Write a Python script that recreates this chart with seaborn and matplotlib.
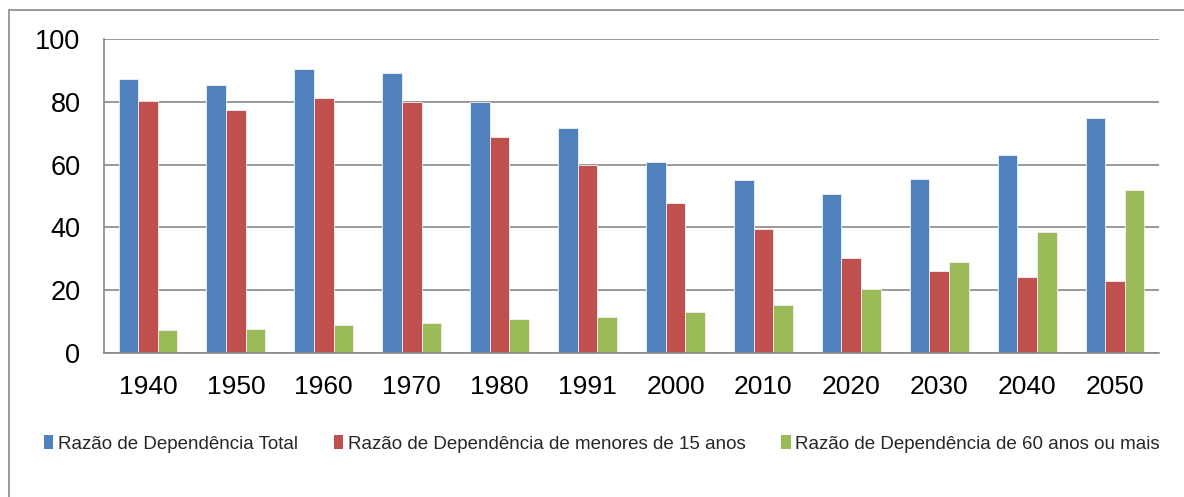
import matplotlib
matplotlib.use("Agg")
import matplotlib.pyplot as plt
import seaborn as sns
import pandas as pd
from matplotlib.patches import Rectangle, Patch

anos = ["1940", "1950", "1960", "1970", "1980", "1991", "2000", "2010", "2020", "2030", "2040", "2050"]
total = [87.4, 85.4, 90.3, 89.2, 79.9, 71.5, 60.8, 55.0, 50.7, 55.4, 62.9, 74.9]
menores15 = [80.1, 77.4, 81.1, 79.8, 68.8, 59.9, 47.9, 39.6, 30.2, 26.2, 24.2, 22.9]
mais60 = [7.4, 7.6, 8.9, 9.4, 10.7, 11.5, 12.9, 15.4, 20.4, 29.0, 38.6, 51.9]
series = ["Razão de Dependência Total",
          "Razão de Dependência de menores de 15 anos",
          "Razão de Dependência de 60 anos ou mais"]
cores = ["#4F81BD", "#C0504D", "#9BBB59"]

rows = []
for s, vals in zip(series, [total, menores15, mais60]):
    for a, v in zip(anos, vals):
        rows.append({"ano": a, "valor": v, "serie": s})
df = pd.DataFrame(rows)

sns.set_style("white")
plt.rcParams["font.family"] = ["Liberation Sans", "DejaVu Sans"]

W, H = 1184, 497
fig = plt.figure(figsize=(W / 100, H / 100), dpi=100)
ax = fig.add_axes([104 / W, 1 - 353 / H, (1159 - 104) / W, (353 - 39) / H])

grid_c = "#878787"
sns.barplot(data=df, x="ano", y="valor", hue="serie", palette=cores, order=anos,
            hue_order=series, width=0.67, gap=0, saturation=1, edgecolor="#f2f2f2",
            linewidth=0.6, ax=ax, legend=False, zorder=3)

ax.set_xlim(-0.5, len(anos) - 0.5)
ax.set_ylim(0, 100)
ax.set_yticks([0, 20, 40, 60, 80, 100])
ax.yaxis.grid(True, color=grid_c, linewidth=1.2, zorder=0)
ax.set_axisbelow(True)
ax.set_xlabel("")
ax.set_ylabel("")

for side in ["top", "right"]:
    ax.spines[side].set_visible(False)
for side in ["left", "bottom"]:
    ax.spines[side].set_visible(True)
    ax.spines[side].set_color(grid_c)
    ax.spines[side].set_linewidth(1.2)
    ax.spines[side].set_zorder(4)

ax.set_xticks([i - 0.5 for i in range(len(anos) + 1)], minor=True)
ax.tick_params(axis="x", which="major", length=0, pad=16, labelsize=19, colors="black")
ax.tick_params(axis="x", which="minor", length=6, width=1.2, color=grid_c, direction="out")
ax.tick_params(axis="y", which="major", length=6, width=1.2, color=grid_c, direction="out",
               pad=11, labelsize=19.5, labelcolor="black")
ax.tick_params(axis="x", labelcolor="black")

handles = [Patch(facecolor=c, edgecolor="none") for c in cores]
fig.legend(handles, series, loc="center left", bbox_to_anchor=(44 / W, 1 - 444 / H),
           ncol=3, frameon=False, fontsize=13.5, handlelength=0.5, handleheight=0.7,
           handletextpad=0.25, columnspacing=1.9, borderaxespad=0, borderpad=0)

fig.patches.append(Rectangle((9 / W, -0.1), 1.2, 1 - 10 / H + 0.1, transform=fig.transFigure,
                             fill=False, edgecolor="#878787", linewidth=1.2))

fig.savefig("out.png", dpi=100, facecolor="white")
